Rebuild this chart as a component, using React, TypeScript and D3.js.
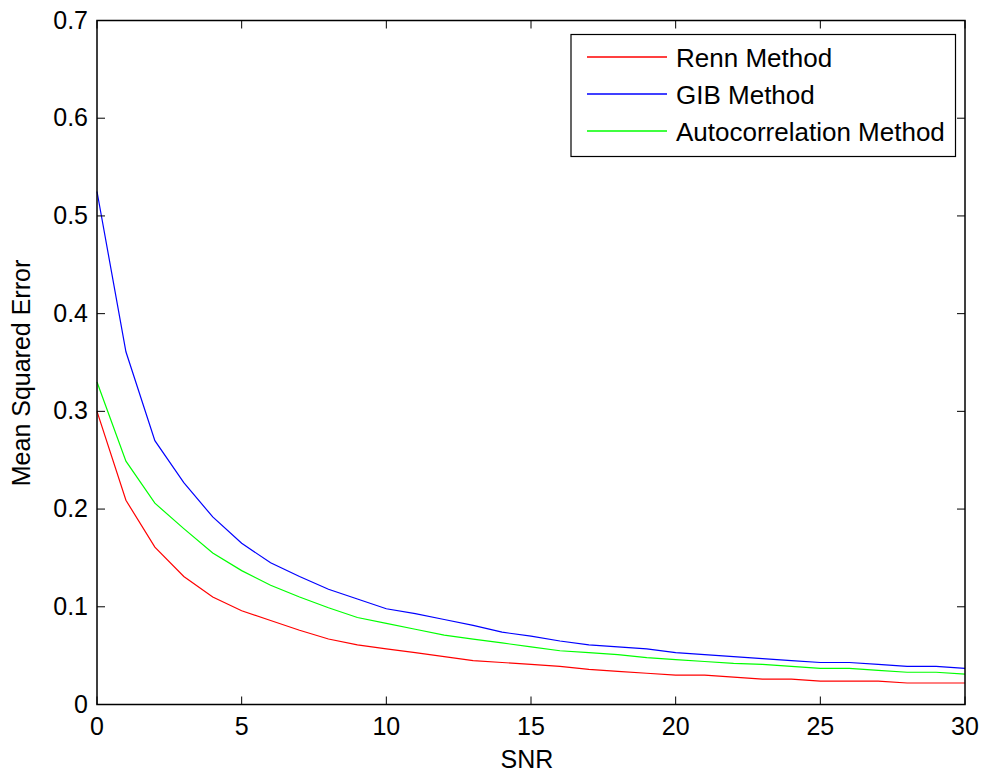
import React from "react";
import * as d3 from "d3";

const snr = d3.range(0, 31);
const renn = [0.300, 0.209, 0.161, 0.131, 0.110, 0.096, 0.086, 0.076, 0.067, 0.061, 0.057, 0.053, 0.049, 0.045, 0.043, 0.041, 0.039, 0.036, 0.034, 0.032, 0.030, 0.030, 0.028, 0.026, 0.026, 0.024, 0.024, 0.024, 0.022, 0.022, 0.022];
const gib = [0.525, 0.361, 0.270, 0.227, 0.192, 0.165, 0.145, 0.131, 0.118, 0.108, 0.098, 0.093, 0.087, 0.081, 0.074, 0.070, 0.065, 0.061, 0.059, 0.057, 0.053, 0.051, 0.049, 0.047, 0.045, 0.043, 0.043, 0.041, 0.039, 0.039, 0.037];
const auto = [0.330, 0.249, 0.206, 0.180, 0.155, 0.137, 0.122, 0.110, 0.099, 0.089, 0.083, 0.077, 0.071, 0.067, 0.063, 0.059, 0.055, 0.053, 0.051, 0.048, 0.046, 0.044, 0.042, 0.041, 0.039, 0.037, 0.037, 0.035, 0.033, 0.033, 0.031];
const seriesNames = ["Renn Method", "GIB Method", "Autocorrelation Method"];
const seriesColors = ["#ff0000", "#0000ff", "#00ff00"];
const xTicks = [0, 5, 10, 15, 20, 25, 30];
const yTicks = [0, 0.1, 0.2, 0.3, 0.4, 0.5, 0.6, 0.7];

export default function App() {
  const W = 987, H = 779;
  const L = 97, R = 965, T = 20.5, B = 704.5;
  const x = d3.scaleLinear().domain([0, 30]).range([L, R]);
  const y = d3.scaleLinear().domain([0, 0.7]).range([B, T]);
  const line = d3.line<number>().x((_, i) => x(snr[i])).y((d) => y(d));
  const all = [renn, gib, auto];
  const font = "'Liberation Sans', Arial, sans-serif";
  const tl = 8;
  const fs = 25;
  return (
    <svg width={W} height={H} style={{ position: "absolute", left: 0, top: 0, background: "#fff" }} fontFamily={font}>
      <rect x={0} y={0} width={W} height={H} fill="#fff" />
      {all.map((s, i) => (
        <path key={i} d={line(s) || ""} fill="none" stroke={seriesColors[i]} strokeWidth={1.2} />
      ))}
      {xTicks.map((t) => (
        <g key={"x" + t}>
          <line x1={x(t)} x2={x(t)} y1={B} y2={B - tl} stroke="#000" strokeWidth={1} />
          <line x1={x(t)} x2={x(t)} y1={T} y2={T + tl} stroke="#000" strokeWidth={1} />
          <text x={x(t)} y={735} fontSize={fs} textAnchor="middle" fill="#000">{t}</text>
        </g>
      ))}
      {yTicks.map((t) => (
        <g key={"y" + t}>
          <line x1={L} x2={L + tl} y1={y(t)} y2={y(t)} stroke="#000" strokeWidth={1} />
          <line x1={R} x2={R - tl} y1={y(t)} y2={y(t)} stroke="#000" strokeWidth={1} />
          <text x={88} y={y(t) + 8} fontSize={fs} textAnchor="end" fill="#000">{t === 0 ? "0" : t.toFixed(1)}</text>
        </g>
      ))}
      <rect x={L} y={T} width={R - L} height={B - T} fill="none" stroke="#000" strokeWidth={1.5} />
      <text x={527} y={768} fontSize={fs} textAnchor="middle" fill="#000">SNR</text>
      <text transform={`translate(30,373) rotate(-90)`} fontSize={fs} textAnchor="middle" fill="#000">Mean Squared Error</text>
      <rect x={571} y={34.5} width={384.5} height={122} fill="#fff" stroke="#000" strokeWidth={1.2} />
      {seriesNames.map((n, i) => (
        <g key={n}>
          <line x1={587} x2={667} y1={57 + i * 37} y2={57 + i * 37} stroke={seriesColors[i]} strokeWidth={1.5} />
          <text x={676} y={57 + i * 37 + 9.5} fontSize={26} fill="#000">{n}</text>
        </g>
      ))}
    </svg>
  );
}
